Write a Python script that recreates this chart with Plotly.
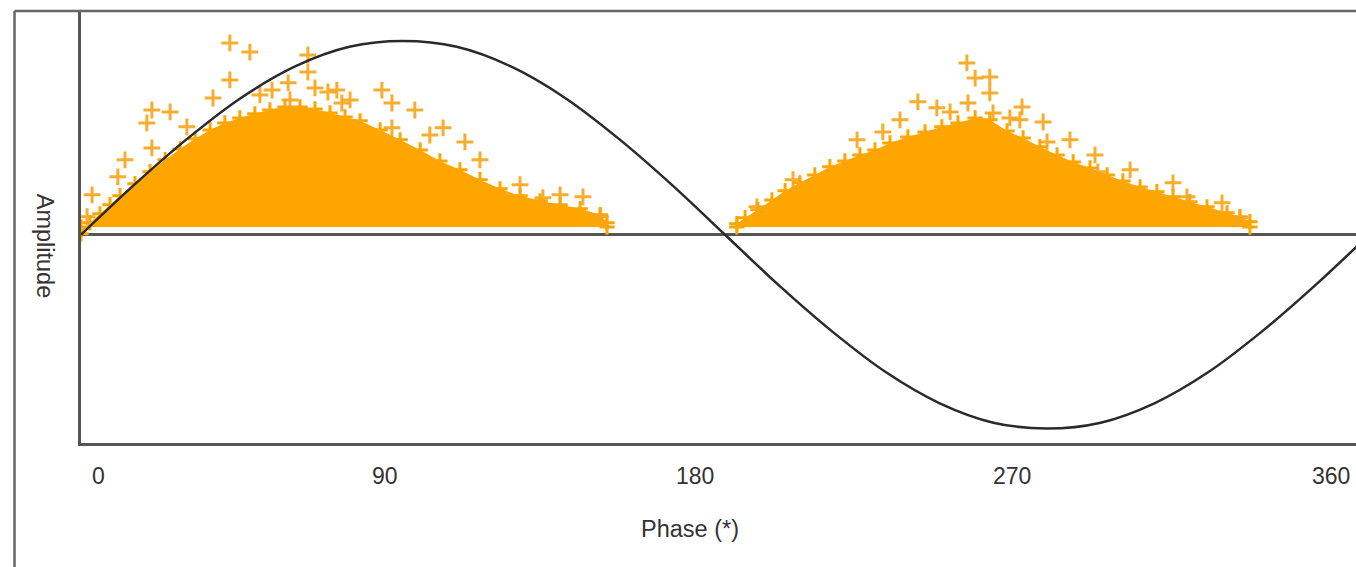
import plotly.graph_objects as go

# ---------------- data (phase in degrees, amplitude normalised to sine peak) ----------------
# positive half-cycle cloud: upper envelope of the dense region
cloud1_phase = [0.0, 2.5, 5.3, 8.1, 10.9, 15.1, 19.3, 23.5, 27.7, 31.9, 36.1, 40.2, 44.4, 48.6,
                52.8, 57.0, 61.2, 65.4, 69.6, 73.8, 78.0, 83.6, 89.2, 94.8, 100.3, 105.9,
                111.5, 117.1, 122.7, 128.3, 133.9, 139.5, 145.1, 147.0]
cloud1_top = [0.005, 0.062, 0.108, 0.155, 0.201, 0.263, 0.325, 0.387, 0.443, 0.495, 0.541,
              0.577, 0.603, 0.624, 0.644, 0.660, 0.660, 0.649, 0.629, 0.608, 0.588, 0.541,
              0.490, 0.438, 0.381, 0.335, 0.284, 0.237, 0.201, 0.175, 0.155, 0.134, 0.103, 0.062]
cloud1_base = 0.04

# negative half-cycle cloud: upper envelope of the dense region
cloud2_phase = [183.3, 185.6, 189.2, 193.1, 196.8, 200.9, 205.1, 209.3, 213.5, 217.7, 221.9,
                226.1, 231.1, 235.9, 240.6, 245.1, 249.9, 254.0, 258.8, 263.3, 268.0, 272.8,
                277.3, 282.0, 286.8, 291.2, 296.0, 300.7, 305.2, 309.9, 314.7, 320.3, 323.9, 326.7]
cloud2_top = [0.057, 0.088, 0.129, 0.180, 0.227, 0.268, 0.309, 0.351, 0.381, 0.412, 0.438,
              0.474, 0.505, 0.531, 0.557, 0.577, 0.603, 0.593, 0.536, 0.500, 0.454, 0.412,
              0.376, 0.345, 0.309, 0.278, 0.247, 0.222, 0.196, 0.170, 0.144, 0.113, 0.093, 0.067]
cloud2_base = 0.04

# isolated discharge pulses above the dense regions
pulse_phase = [41.6, 47.2, 41.6, 36.9, 19.8, 24.9, 18.4, 29.6, 12.3, 10.3, 3.1, 63.4, 63.4,
               57.9, 53.4, 65.4, 69.0, 19.8, 1.7, 71.5, 72.9, 84.1, 86.9, 93.3, 86.9, 101.2,
               107.3, 140.3, 129.1, 145.1, 50.0, 75.2, 58.4, 97.5, 111.5, 122.7, 133.9,
               247.6, 249.9, 254.0, 254.0, 233.9, 247.9, 263.0, 268.9, 276.4, 216.9, 224.1,
               239.2, 254.9, 270.0, 284.2, 305.2, 309.1, 318.9, 323.9, 199.0, 188.9, 283.4,
               262.4, 228.9, 242.9, 259.6, 293.2]
pulse_amp = [0.990, 0.943, 0.799, 0.706, 0.644, 0.634, 0.577, 0.557, 0.387, 0.299, 0.206,
             0.928, 0.840, 0.784, 0.747, 0.758, 0.737, 0.448, 0.093, 0.747, 0.680, 0.747,
             0.680, 0.644, 0.552, 0.552, 0.479, 0.196, 0.191, 0.093, 0.722, 0.696, 0.696,
             0.515, 0.387, 0.258, 0.206,
             0.887, 0.809, 0.814, 0.732, 0.686, 0.680, 0.660, 0.582, 0.490, 0.490, 0.531,
             0.655, 0.629, 0.479, 0.325, 0.268, 0.196, 0.165, 0.088, 0.284, 0.144, 0.412,
             0.593, 0.593, 0.634, 0.603, 0.335]

# reference voltage wave
wave_phase = [0, 15, 30, 45, 60, 75, 90, 105, 120, 135, 150, 165, 180, 195, 210, 225, 240,
              255, 270, 285, 300, 315, 330, 345, 360]
wave_amp = [0.0, 0.26, 0.5, 0.71, 0.87, 0.97, 1.0, 0.97, 0.87, 0.71, 0.5, 0.26, 0.0, -0.26,
            -0.5, -0.71, -0.87, -0.97, -1.0, -0.97, -0.87, -0.71, -0.5, -0.26, 0.0]

# tick labels and where they sit on the phase axis
tick_labels = ["0", "90", "180", "270", "360"]
tick_pos = [4.75, 85.0, 171.6, 260.2, 349.4]

x_title = "Phase (*)"
y_title = "Amplitude"

ORANGE = "#FFA500"
TEXT = "#333333"
FONT = "Liberation Sans, Arial, sans-serif"

FIG_W, FIG_H = 1356, 567
PLOT_L, PLOT_T, PLOT_B = 81, 11, 443.5
plot_w = FIG_W - PLOT_L
plot_h = PLOT_B - PLOT_T
px_per_deg = 3.578
x_max = plot_w / px_per_deg

fig = go.Figure()


def cloud(phase, top, base):
    xs = list(phase) + [phase[-1], phase[0]]
    ys = list(top) + [base, base]
    return go.Scatter(
        x=xs, y=ys, fill="toself", fillcolor=ORANGE, mode="markers",
        marker=dict(symbol="cross-thin", size=11, line=dict(color=ORANGE, width=3)),
        line=dict(width=0), hoverinfo="skip", showlegend=False,
    )


fig.add_trace(cloud(cloud1_phase, cloud1_top, cloud1_base))
fig.add_trace(cloud(cloud2_phase, cloud2_top, cloud2_base))

fig.add_trace(go.Scatter(
    x=pulse_phase, y=pulse_amp, mode="markers",
    marker=dict(symbol="cross-thin", size=12, color=ORANGE,
                line=dict(color="rgba(245,165,25,0.9)", width=3)),
    showlegend=False,
))

fig.add_trace(go.Scatter(
    x=wave_phase, y=wave_amp, mode="lines",
    line=dict(color="#2a2a2a", width=2.5, shape="spline", smoothing=1.0),
    showlegend=False,
))

fig.update_layout(
    width=FIG_W, height=FIG_H,
    margin=dict(l=PLOT_L, r=0, t=PLOT_T, b=FIG_H - PLOT_B, pad=0),
    paper_bgcolor="white", plot_bgcolor="white",
    font=dict(family=FONT, color=TEXT, size=23),
    xaxis=dict(range=[0, x_max], showgrid=False, zeroline=False, showticklabels=False,
               ticks="", showline=True, linecolor="#555555", linewidth=2.5, mirror=False),
    yaxis=dict(range=[-1.075, 1.155], showgrid=False, showticklabels=False, ticks="",
               zeroline=True, zerolinecolor="#555555", zerolinewidth=3,
               showline=True, linecolor="#555555", linewidth=2.5),
)

annotations = []
for lab, pos in zip(tick_labels, tick_pos):
    annotations.append(dict(x=pos, xref="x", y=0, yref="paper", text=lab, showarrow=False,
                            xanchor="center", yanchor="middle", yshift=-33,
                            font=dict(size=23, color=TEXT, family=FONT)))
annotations.append(dict(x=(690 - PLOT_L) / plot_w, xref="paper", y=0, yref="paper", text=x_title,
                        showarrow=False, xanchor="center", yanchor="middle", yshift=-86,
                        font=dict(size=23.5, color=TEXT, family=FONT)))
annotations.append(dict(x=0, xref="paper", y=(PLOT_B - 246) / plot_h, yref="paper", text=y_title,
                        showarrow=False, xanchor="center", yanchor="middle", xshift=-36,
                        textangle=90, font=dict(size=23.5, color=TEXT, family=FONT)))
fig.update_layout(annotations=annotations)

# outer frame (continues past the right and bottom edges of the picture)
frame_x = (14.5 - PLOT_L) / plot_w
fig.add_shape(type="line", xref="paper", yref="paper", x0=frame_x, x1=1.05, y0=1, y1=1,
              line=dict(color="#666666", width=2.5))
fig.add_shape(type="line", xref="paper", yref="paper", x0=frame_x, x1=frame_x, y0=1, y1=-0.4,
              line=dict(color="#666666", width=2.5))

fig.write_html(
    "out.html",
    config={"displayModeBar": False},
    post_script="document.body.style.margin='0';document.body.style.overflow='hidden';",
)
